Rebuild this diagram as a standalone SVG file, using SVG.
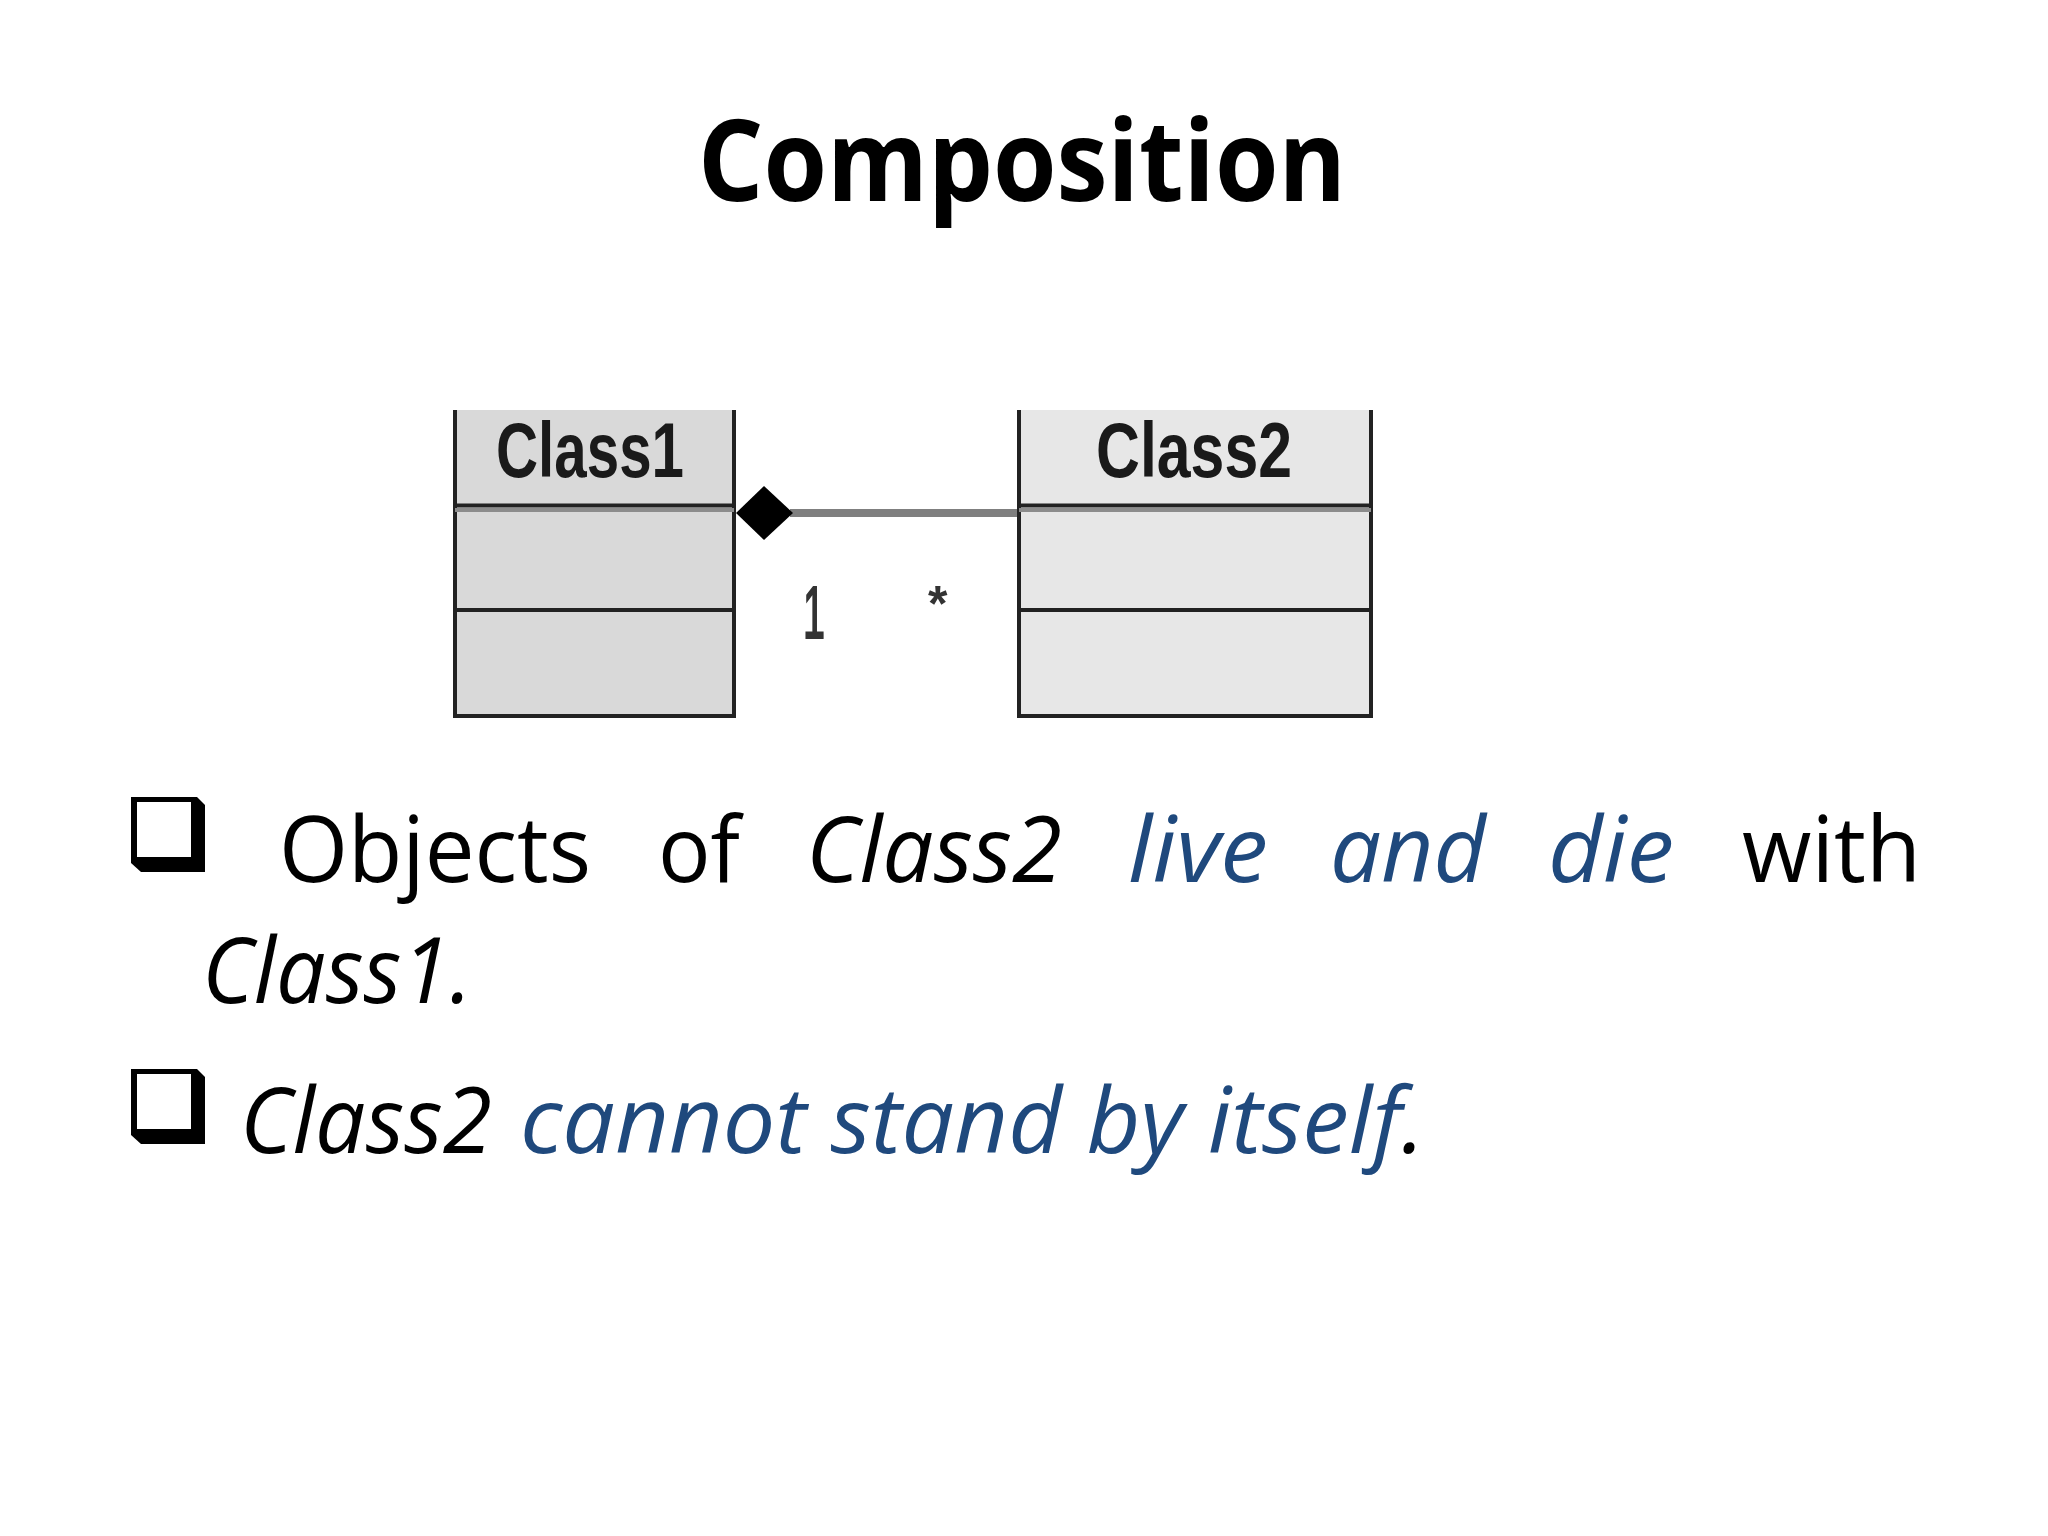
<svg xmlns="http://www.w3.org/2000/svg" width="2048" height="1536" viewBox="0 0 2048 1536">
<defs>
<style>
.title{font-family:"Open Sans","Liberation Sans",sans-serif;font-weight:bold;font-size:113px;fill:#000}
.cls{font-family:"Liberation Sans",Arial,sans-serif;font-weight:bold;font-size:77px;fill:#1a1a1a}
.mult{font-family:"Liberation Sans",Arial,sans-serif;fill:#333}
.body{font-family:"Open Sans","Noto Sans",sans-serif;font-size:91px;fill:#000}
.it{font-style:italic}
.blue{fill:#1F497D}
.border{stroke:#222;stroke-width:4;fill:none}
.div2{stroke:#8c8c8c;stroke-width:4}
</style>
<g id="bulletShape">
<polygon points="131,0 197,0 205,8 205,75 141,75 131,66" fill="#000"/>
<rect x="137" y="5" width="54" height="55" fill="#fff"/>
</g>
</defs>
<rect width="2048" height="1536" fill="#fff"/>
<text class="title" x="698" y="201" textLength="648" lengthAdjust="spacingAndGlyphs">Composition</text>

<g id="class1">
<rect x="453" y="410" width="283" height="307" fill="#d9d9d9"/>
<path class="border" d="M455,410 V716 M734,410 V716 M453,716 H736 M453,505.5 H736 M453,610 H736"/>
<line class="div2" x1="455" y1="510" x2="734" y2="510"/>
<text class="cls" x="496" y="477" textLength="188" lengthAdjust="spacingAndGlyphs">Class1</text>
</g>

<g id="class2">
<rect x="1017" y="410" width="356" height="307" fill="#e7e7e7"/>
<path class="border" d="M1019,410 V716 M1371,410 V716 M1017,716 H1373 M1017,505.5 H1373 M1017,610 H1373"/>
<line class="div2" x1="1019" y1="510" x2="1371" y2="510"/>
<text class="cls" x="1096" y="477" textLength="196" lengthAdjust="spacingAndGlyphs">Class2</text>
</g>

<g id="connectors">
<line x1="790" y1="513" x2="1017" y2="513" stroke="#7f7f7f" stroke-width="8"/>
<polygon points="736,513 764,486 793,513 764,540" fill="#000"/>
<text class="mult" x="803" y="638" font-size="74" stroke="#333" stroke-width="2" textLength="22" lengthAdjust="spacingAndGlyphs">1</text>
<text class="mult" x="928" y="621" font-size="50" font-weight="bold" fill="#444">*</text>
</g>

<g id="bullet1">
<use href="#bulletShape" y="797"/>
<text class="body" x="279" y="882" textLength="312" lengthAdjust="spacingAndGlyphs">Objects</text>
<text class="body" x="658" y="882" textLength="82" lengthAdjust="spacingAndGlyphs">of</text>
<text class="body it" x="806" y="882" textLength="256" lengthAdjust="spacingAndGlyphs">Class2</text>
<text class="body it blue" x="1128" y="882" textLength="140" lengthAdjust="spacingAndGlyphs">live</text>
<text class="body it blue" x="1330" y="882" textLength="156" lengthAdjust="spacingAndGlyphs">and</text>
<text class="body it blue" x="1548" y="882" textLength="126" lengthAdjust="spacingAndGlyphs">die</text>
<text class="body" x="1742" y="882" textLength="179" lengthAdjust="spacingAndGlyphs">with</text>
<text class="body it" x="202" y="1003" textLength="270" lengthAdjust="spacingAndGlyphs">Class1.</text>
</g>

<g id="bullet2">
<use href="#bulletShape" y="1069"/>
<text class="body it" x="240" y="1153" textLength="252" lengthAdjust="spacingAndGlyphs">Class2</text>
<text class="body it blue" x="520" y="1153" textLength="905" lengthAdjust="spacingAndGlyphs">cannot stand by itself<tspan fill="#000">.</tspan></text>
</g>
</svg>
